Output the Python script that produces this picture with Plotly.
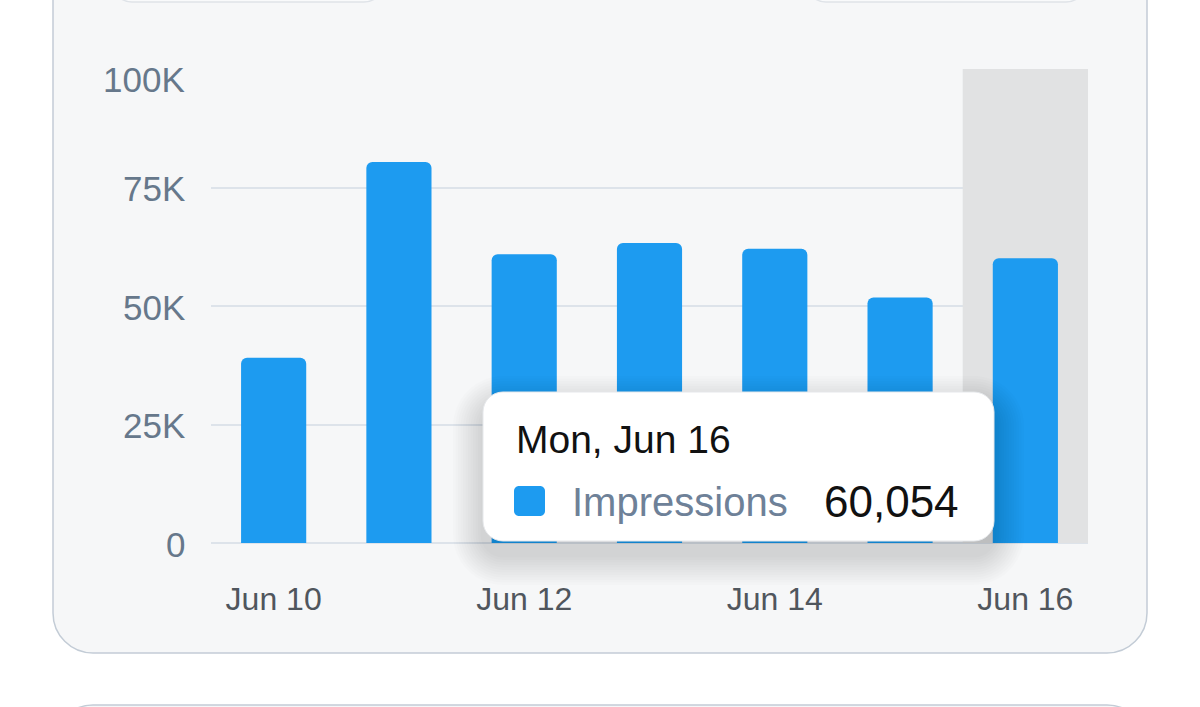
import plotly.graph_objects as go

# ---------------- data ----------------
days = ["Jun 10", "Jun 11", "Jun 12", "Jun 13", "Jun 14", "Jun 15", "Jun 16"]
weekdays = ["Tue", "Wed", "Thu", "Fri", "Sat", "Sun", "Mon"]
impressions = [39100, 80400, 60900, 63300, 62100, 51800, 60054]
x_tick_labels = ["Jun 10", "Jun 12", "Jun 14", "Jun 16"]
y_tick_vals = [0, 25000, 50000, 75000, 100000]
y_tick_text = ["0", "25K", "50K", "75K", "100K"]
series_name = "Impressions"
highlight_index = 6

# ---------------- geometry (pixels) ----------------
W_FIG, H_FIG = 1200, 707
L, R, T, B = 211, 1088, 69, 543
PW, PH = R - L, B - T

BLUE = "#1d9bf0"


def X(p):
    return (p - L) / PW


def Y(p):
    return (B - p) / PH


def rr_path(x0, y0, x1, y1, r):
    k = 0.5523 * r
    pts = [
        f"M {X(x0 + r)},{Y(y0)}",
        f"L {X(x1 - r)},{Y(y0)}",
        f"C {X(x1 - r + k)},{Y(y0)} {X(x1)},{Y(y0 + r - k)} {X(x1)},{Y(y0 + r)}",
        f"L {X(x1)},{Y(y1 - r)}",
        f"C {X(x1)},{Y(y1 - r + k)} {X(x1 - r + k)},{Y(y1)} {X(x1 - r)},{Y(y1)}",
        f"L {X(x0 + r)},{Y(y1)}",
        f"C {X(x0 + r - k)},{Y(y1)} {X(x0)},{Y(y1 - r + k)} {X(x0)},{Y(y1 - r)}",
        f"L {X(x0)},{Y(y0 + r)}",
        f"C {X(x0)},{Y(y0 + r - k)} {X(x0 + r - k)},{Y(y0)} {X(x0 + r)},{Y(y0)}",
        "Z",
    ]
    return " ".join(pts)


shapes = []
# main card
shapes.append(dict(type="path", xref="paper", yref="paper", layer="below",
                   path=rr_path(53, -80, 1147, 653, 40),
                   fillcolor="#f6f7f8", line=dict(color="#c3ccd6", width=1.5)))
# next card (bottom)
shapes.append(dict(type="path", xref="paper", yref="paper", layer="below",
                   path=rr_path(53, 705, 1147, 900, 40),
                   fillcolor="#f6f7f8", line=dict(color="#c3ccd6", width=1.5)))
# top pills
for px0, px1 in [(112, 384), (806, 1086)]:
    shapes.append(dict(type="path", xref="paper", yref="paper", layer="below",
                       path=rr_path(px0, -60, px1, 2, 20),
                       fillcolor="#f9fafb", line=dict(color="#dfe3e8", width=1.5)))

# highlight band for hovered category
shapes.append(dict(type="rect", xref="x", yref="y", layer="between",
                   x0=highlight_index - 0.5, x1=highlight_index + 0.5,
                   y0=0, y1=y_tick_vals[-1],
                   fillcolor="#e1e2e3", line=dict(width=0)))

# tooltip soft shadow
tx0, ty0, tx1, ty1 = 483, 392, 994, 541
n_layers = 12
for i in range(n_layers):
    g = 30 - i * 2.5
    shapes.append(dict(type="path", xref="paper", yref="paper", layer="above",
                       path=rr_path(tx0 - g, ty0 - g + 14, tx1 + g, ty1 + g + 14, 20 + g),
                       fillcolor="rgba(0,0,0,0.012)", line=dict(width=0)))
shapes.append(dict(type="path", xref="paper", yref="paper", layer="above",
                   path=rr_path(tx0, ty0, tx1, ty1, 20),
                   fillcolor="#ffffff", line=dict(color="#e6e8eb", width=1)))
# legend swatch in tooltip
shapes.append(dict(type="path", xref="paper", yref="paper", layer="above",
                   path=rr_path(514, 486, 545, 516, 5),
                   fillcolor=BLUE, line=dict(width=0)))

hv = highlight_index
annotations = [
    dict(xref="paper", yref="paper", x=X(514), y=Y(439), xanchor="left", yanchor="middle",
         text=f"{weekdays[hv]}, {days[hv]}", showarrow=False,
         font=dict(family="Liberation Sans, Arial", size=39, color="#111111")),
    dict(xref="paper", yref="paper", x=X(570), y=Y(502), xanchor="left", yanchor="middle",
         text=series_name, showarrow=False,
         font=dict(family="Liberation Sans, Arial", size=40, color="#6e8198")),
    dict(xref="paper", yref="paper", x=X(961), y=Y(501), xanchor="right", yanchor="middle",
         text=f"{impressions[hv]:,}", showarrow=False,
         font=dict(family="Liberation Sans, Arial", size=44, color="#111111")),
]

# y tick labels as annotations on the y scale (top label nudged inside)
for v, t in zip(y_tick_vals, y_tick_text):
    annotations.append(dict(
        xref="paper", yref="y", x=X(187), y=v, xanchor="right", yanchor="middle",
        yshift=-10 if v == y_tick_vals[-1] else -1,
        text=t, showarrow=False,
        font=dict(family="Liberation Sans, Arial", size=35, color="#66788b")))

fig = go.Figure()
fig.add_trace(go.Bar(
    x=days, y=impressions, name=series_name,
    marker=dict(color=BLUE, cornerradius=6, line=dict(width=0)),
    hoverinfo="skip",
))

fig.update_layout(
    width=W_FIG, height=H_FIG,
    margin=dict(l=L, r=W_FIG - R, t=T, b=H_FIG - B, pad=0),
    paper_bgcolor="#ffffff", plot_bgcolor="rgba(0,0,0,0)",
    showlegend=False, bargap=0.48,
    shapes=shapes, annotations=annotations,
    font=dict(family="Liberation Sans, Arial"),
)
fig.update_xaxes(
    type="category", categoryorder="array", categoryarray=days,
    tickmode="array", tickvals=x_tick_labels, ticktext=x_tick_labels,
    showgrid=False, showline=False, zeroline=False, ticks="",
    tickfont=dict(size=32, color="#50565d"), ticklabelstandoff=34,
    range=[-0.5, len(days) - 0.5],
)
fig.update_yaxes(
    range=[0, y_tick_vals[-1]], tickmode="array", tickvals=y_tick_vals,
    showticklabels=False,
    showgrid=True, gridcolor="#dde3ea", gridwidth=1.5,
    zeroline=True, zerolinecolor="#dde3ea", zerolinewidth=1.5,
    showline=False, ticks="",
)

fig.write_html("out.html")
